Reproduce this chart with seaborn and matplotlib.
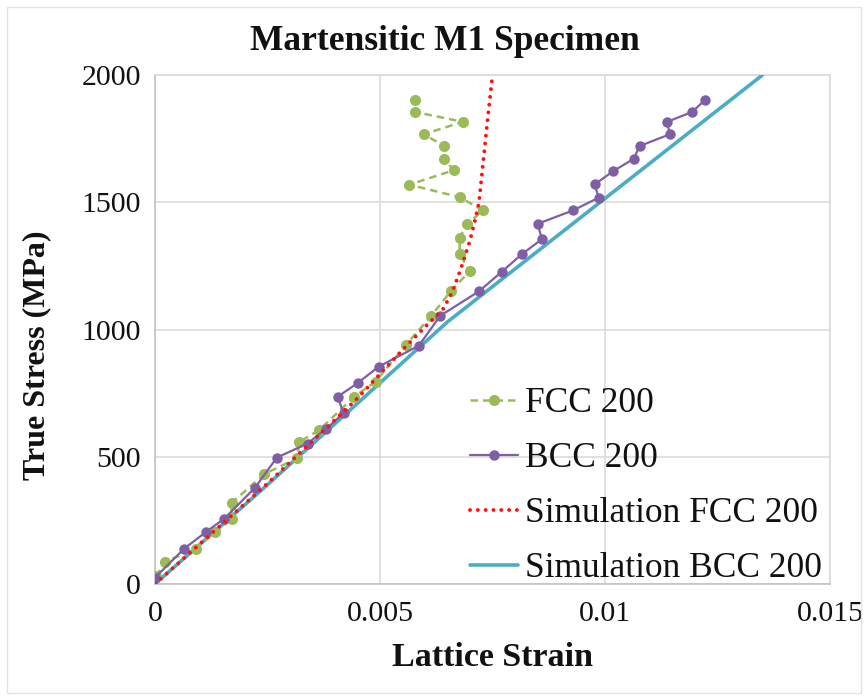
import matplotlib
matplotlib.use("Agg")
import matplotlib.pyplot as plt
import seaborn as sns
import pandas as pd
from matplotlib.patches import Rectangle

# ---- data ----
fcc_strain = [0.00002, 0.00022, 0.0009, 0.00134, 0.0017, 0.0017, 0.00243, 0.00316, 0.0032,
              0.00365, 0.00443, 0.0049, 0.00558, 0.00614, 0.00657, 0.00699, 0.00677, 0.00677,
              0.00694, 0.00729, 0.00677, 0.00565, 0.00664, 0.00643, 0.00643, 0.00597,
              0.00684, 0.00577, 0.00578]
fcc_stress = [30, 86, 139, 203, 254, 318, 432, 494, 557, 605, 736, 795, 940, 1054, 1150,
              1229, 1298, 1360, 1415, 1468, 1520, 1569, 1626, 1669, 1721, 1767, 1816, 1855, 1902]

bcc_strain = [0.0, 0.00065, 0.00113, 0.00154, 0.00222, 0.00271, 0.00339, 0.00381, 0.00419,
              0.00406, 0.0045, 0.00497, 0.00586, 0.00634, 0.0072, 0.0077, 0.00816, 0.0086,
              0.0085, 0.00929, 0.00986, 0.00977, 0.01018, 0.01064, 0.01077, 0.01144,
              0.01138, 0.01194, 0.01222]
bcc_stress = [25, 139, 204, 257, 378, 497, 552, 611, 671, 736, 789, 854, 936, 1054, 1150,
              1226, 1297, 1355, 1415, 1468, 1518, 1570, 1622, 1671, 1721, 1767, 1816, 1855, 1902]

sim_fcc_strain = [0.0, 0.0025, 0.004, 0.0045, 0.005, 0.0055, 0.006, 0.0064, 0.0066, 0.0068,
                  0.007, 0.0071, 0.0072, 0.0073, 0.0074, 0.0075]
sim_fcc_stress = [0, 395, 645, 730, 825, 920, 1010, 1080, 1145, 1240, 1350, 1420, 1500,
                  1670, 1840, 2000]

sim_bcc_strain = [0.0, 0.0025, 0.005, 0.0065, 0.0135]
sim_bcc_stress = [0, 390, 790, 1030, 2000]

labels = ["FCC 200", "BCC 200", "Simulation FCC 200", "Simulation BCC 200"]
x_ticks = [0, 0.005, 0.01, 0.015]
x_tick_labels = ["0", "0.005", "0.01", "0.015"]
y_ticks = [0, 500, 1000, 1500, 2000]

# ---- styling ----
sns.set_theme(style="whitegrid")
plt.rcParams["font.family"] = ["Liberation Serif", "DejaVu Serif"]

W, H = 868, 700
fig = plt.figure(figsize=(W / 100, H / 100), dpi=100)
L, R, B, T = 155, 830, 584, 75
ax = fig.add_axes([L / W, 1 - B / H, (R - L) / W, (B - T) / H])

def df(x, y, name):
    return pd.DataFrame({"strain": x, "stress": y, "series": name})

green = "#9BBB59"
purple = "#7E5FA6"
red = "#FF1010"
teal = "#4BACC6"

sns.lineplot(data=df(sim_bcc_strain, sim_bcc_stress, labels[3]), x="strain", y="stress",
             sort=False, estimator=None, color=teal, lw=2.6, ax=ax, label=labels[3], zorder=3)
sns.lineplot(data=df(fcc_strain, fcc_stress, labels[0]), x="strain", y="stress",
             sort=False, estimator=None, color=green, lw=1.8, ls=(0, (3, 2)), marker="o",
             markersize=8, markeredgewidth=0, ax=ax, label=labels[0], zorder=4)
sns.lineplot(data=df(bcc_strain, bcc_stress, labels[1]), x="strain", y="stress",
             sort=False, estimator=None, color=purple, lw=1.6, marker="o",
             markersize=7.5, markeredgewidth=0, ax=ax, label=labels[1], zorder=5)
sns.lineplot(data=df(sim_fcc_strain, sim_fcc_stress, labels[2]), x="strain", y="stress",
             sort=False, estimator=None, color=red, lw=2.8, ls=(0, (0.01, 2.0)),
             ax=ax, label=labels[2], zorder=6)
for ln in ax.lines:
    if ln.get_label() == labels[2]:
        ln.set_dash_capstyle("round")

ax.set_xlim(0, 0.015)
ax.set_ylim(0, 2000)
ax.set_xticks(x_ticks)
ax.set_xticklabels(x_tick_labels)
ax.set_yticks(y_ticks)
ax.set_yticklabels([str(v) for v in y_ticks])
ax.tick_params(axis="both", length=0, labelsize=21.5, colors="#111111")
ax.tick_params(axis="x", pad=12)
ax.tick_params(axis="y", pad=10)
ax.grid(True, color="#D9D9D9", lw=1.1)
for s in ax.spines.values():
    s.set_color("#D9D9D9")
    s.set_linewidth(1.1)
ax.spines["left"].set_color("#BFBFBF")
ax.spines["bottom"].set_color("#BFBFBF")
ax.set_xlabel("")
ax.set_ylabel("")

# legend in the reference order
handles, labs = ax.get_legend_handles_labels()
order = [labs.index(l) for l in labels]
leg = ax.legend([handles[i] for i in order], [labs[i] for i in order],
                loc="lower left", bbox_to_anchor=(452 / W, 1 - 603 / H),
                bbox_transform=fig.transFigure, frameon=False, fontsize=25.5,
                borderpad=0, handlelength=1.35, handletextpad=0.2, labelspacing=0.62)
for t in leg.get_texts():
    t.set_color("#111111")
for lh in leg.get_lines():
    if lh.get_label() == labels[2] or lh.get_color() == red:
        lh.set_dash_capstyle("round")

fig.text(445 / W, 1 - 42 / H, "Martensitic M1 Specimen", ha="center", va="center",
         fontsize=25.5, fontweight="bold", color="#111111")
fig.text(492 / W, 1 - 658 / H, "Lattice Strain", ha="center", va="center",
         fontsize=24.5, fontweight="bold", color="#111111")
fig.text(37 / W, 1 - 355 / H, "True Stress (MPa)", ha="center", va="center",
         rotation=90, fontsize=23, fontweight="bold", color="#111111")

fig.patches.append(Rectangle((7 / W, 7 / H), 1 - 14 / W, 1 - 14 / H, transform=fig.transFigure,
                             fill=False, edgecolor="#E3E3E3", lw=1.0))

fig.savefig("out.png", dpi=100)
